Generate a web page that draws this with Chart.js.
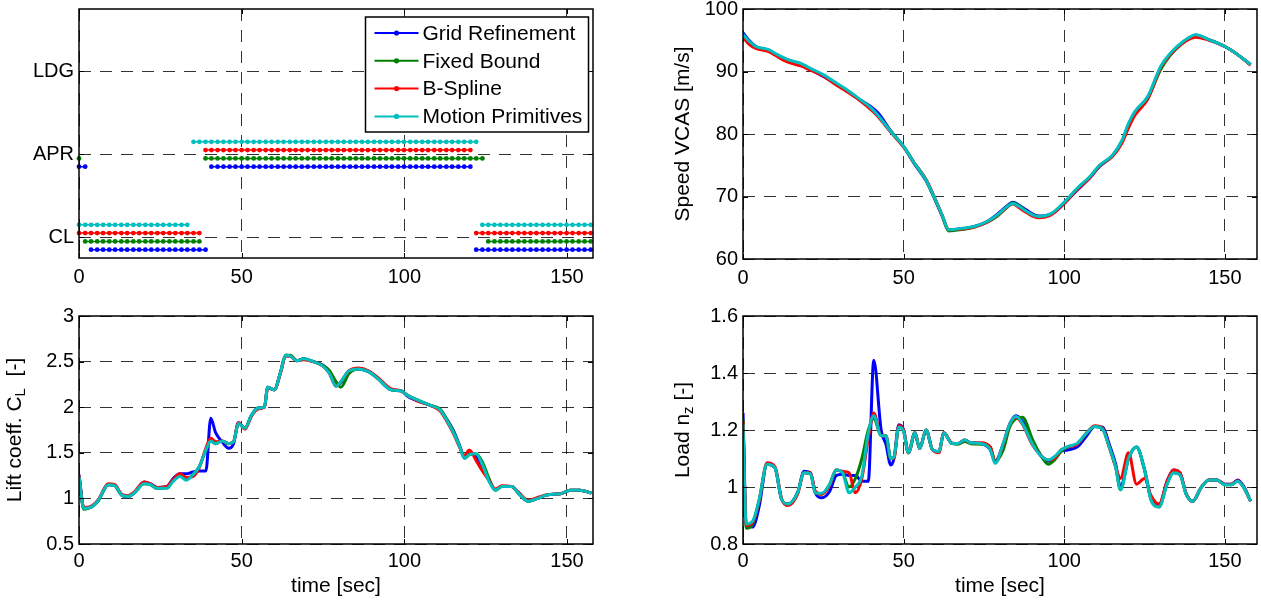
<!DOCTYPE html>
<html>
<head>
<meta charset="utf-8">
<script src="https://cdn.jsdelivr.net/npm/chart.js@4.4.1/dist/chart.umd.min.js"></script>
<style>
body { margin: 0; background: #fff; width: 1261px; height: 601px; overflow: hidden; position: relative; }
canvas { position: absolute; }
</style>
</head>
<body>
<canvas id="modeChart" width="620" height="300" style="left:0;top:0"></canvas>
<canvas id="speedChart" width="621" height="300" style="left:640px;top:0"></canvas>
<canvas id="liftChart" width="620" height="301" style="left:0;top:300px"></canvas>
<canvas id="loadChart" width="621" height="301" style="left:640px;top:300px"></canvas>
<script>
// ---- data ----
const methods = ['Grid Refinement', 'Fixed Bound', 'B-Spline', 'Motion Primitives'];
const colors = ['#0000ff', '#008000', '#ff0000', '#00bfbf'];

const timeTicks = [0, 50, 100, 150];

// flap mode plot
const modeNames = ['CL', 'APR', 'LDG'];
const modeOffsets = [-0.15, -0.05, 0.05, 0.15];
const modeTimes = [0,1.9,3.7,5.6,7.4,9.3,11.1,13,14.8,16.7,18.5,20.4,22.2,24.1,25.9,27.8,29.6,31.5,33.3,35.2,37,38.9,40.7,42.6,44.4,46.3,48.1,50,51.8,53.7,55.5,57.4,59.2,61.1,62.9,64.8,66.6,68.5,70.3,72.2,74,75.9,77.7,79.6,81.4,83.3,85.1,87,88.8,90.7,92.5,94.4,96.2,98.1,99.9,101.8,103.6,105.5,107.3,109.2,111,112.9,114.7,116.6,118.4,120.3,122.1,124,125.8,127.7,129.5,131.4,133.2,135.1,136.9,138.8,140.6,142.5,144.3,146.2,148,149.9,151.7,153.6,155.4,157.3];
const gridModes = [['APR', 0, 1.9], ['CL', 3.7, 38.9], ['APR', 40.7, 120.3], ['CL', 122.1, 158]];
const fixedModes = [['APR', 0, 0], ['CL', 1.9, 37], ['APR', 38.9, 124], ['CL', 125.8, 158]];
const splineModes = [['CL', 0, 37], ['APR', 38.9, 120.3], ['CL', 122.1, 158]];
const motionModes = [['CL', 0, 33.3], ['APR', 35.2, 122.1], ['CL', 124, 158]];

// speed VCAS
const speedTicks = [60, 70, 80, 90, 100];
const tSpeed = [0,2,4,8,10,14,18,21,25,28,32,36,40,42,46,50,53,57,59,62,64,68,72,76,79,82,84,86,88,92,96,100,104,108,111,115,118,120,122,126,130,133,137,141,145,150,154,158];
const speedGrid   = [96.2,94.9,94.0,93.4,92.8,91.8,91.1,90.3,89.2,88.3,87.0,85.6,84.3,83.4,80.5,78.0,75.5,72.5,70.4,66.9,64.7,64.8,65.2,66.0,67.1,68.4,69.1,68.6,67.9,66.9,67.2,68.9,71.0,73.0,74.8,76.5,78.9,81.5,83.5,85.9,90.6,92.8,94.7,95.8,95.1,94.0,92.7,91.1];
const speedFixed  = [95.8,94.7,93.9,93.4,92.8,91.8,91.2,90.4,89.4,88.4,87.1,85.6,84.0,82.9,80.4,78.0,75.6,72.6,70.4,66.9,64.5,64.7,65.1,65.9,66.8,68.2,69.0,68.5,67.7,66.8,67.2,69.0,71.2,73.1,74.9,76.5,78.7,81.4,83.4,85.7,90.3,92.6,94.6,95.8,95.1,94.0,92.7,91.1];
const speedSpline = [95.5,94.3,93.7,93.2,92.6,91.5,90.9,90.2,89.3,88.2,86.9,85.5,83.8,82.8,80.3,77.9,75.6,72.7,70.6,67.0,64.7,64.8,65.1,65.9,66.9,68.2,68.8,68.2,67.5,66.6,67.1,68.9,71.1,73.0,74.9,76.4,78.6,81.0,83.0,85.6,90.6,92.7,94.6,95.5,95.0,94.0,92.7,91.0];
const speedMotion = [95.9,94.8,94.0,93.5,92.9,91.9,91.3,90.5,89.5,88.5,87.2,85.7,84.1,83.0,80.4,78.0,75.6,72.6,70.5,67.0,64.7,64.9,65.2,66.0,67.0,68.3,68.9,68.4,67.7,66.8,67.3,69.1,71.3,73.2,75.0,76.6,79.0,81.7,83.6,86.0,90.8,92.9,94.8,95.9,95.1,94.0,92.7,91.1];

// lift coefficient
const liftTicks = [0.5, 1, 1.5, 2, 2.5, 3];
const tLift = [0,1.5,4,6,9,11,13,15,17,20,22,24,27,29,31,33,35,37,39,40.5,42,44,46,47.5,49,51,53,55,57,58,60,62,63.5,65,67,69,72,75,77,79,80.5,83,86,89,92,96,99,101,104,108,111,113,115,117,118.5,120,122,124,126,128,130,133,135,138,141,144,148,151,154,157.5];
const liftGrid   = [1.26,0.89,0.91,0.98,1.15,1.14,1.04,1.02,1.06,1.18,1.16,1.12,1.13,1.22,1.27,1.27,1.29,1.30,1.30,1.88,1.72,1.62,1.55,1.60,1.83,1.77,1.91,1.99,2.00,2.22,2.19,2.39,2.57,2.56,2.51,2.53,2.50,2.46,2.38,2.24,2.27,2.40,2.42,2.39,2.31,2.19,2.18,2.12,2.07,2.02,1.97,1.87,1.75,1.58,1.45,1.49,1.47,1.33,1.20,1.10,1.13,1.13,1.06,0.97,1.00,1.04,1.05,1.09,1.09,1.06];
const liftFixed  = [1.24,0.88,0.91,0.98,1.15,1.14,1.04,1.02,1.06,1.16,1.15,1.11,1.12,1.20,1.25,1.21,1.26,1.35,1.53,1.63,1.60,1.63,1.60,1.62,1.82,1.77,1.91,1.99,2.00,2.22,2.19,2.39,2.57,2.57,2.51,2.53,2.50,2.46,2.40,2.28,2.22,2.37,2.42,2.39,2.31,2.19,2.18,2.13,2.08,2.02,1.98,1.87,1.74,1.57,1.44,1.48,1.49,1.40,1.22,1.09,1.13,1.13,1.06,0.97,1.00,1.04,1.05,1.09,1.09,1.06];
const liftSpline = [1.25,0.90,0.92,0.99,1.16,1.15,1.05,1.03,1.07,1.18,1.16,1.12,1.13,1.21,1.27,1.23,1.24,1.34,1.55,1.66,1.62,1.63,1.60,1.62,1.83,1.76,1.90,1.98,2.00,2.21,2.19,2.38,2.56,2.56,2.51,2.52,2.50,2.45,2.37,2.23,2.28,2.40,2.43,2.40,2.32,2.20,2.18,2.13,2.07,2.02,1.96,1.85,1.72,1.56,1.47,1.53,1.42,1.30,1.20,1.10,1.14,1.13,1.07,0.98,1.01,1.04,1.05,1.09,1.09,1.06];
const liftMotion = [1.24,0.89,0.91,0.98,1.15,1.14,1.04,1.02,1.06,1.16,1.15,1.11,1.11,1.19,1.24,1.20,1.26,1.35,1.53,1.63,1.60,1.63,1.60,1.62,1.82,1.77,1.91,1.99,2.00,2.22,2.19,2.39,2.57,2.56,2.51,2.53,2.50,2.45,2.37,2.23,2.28,2.40,2.42,2.39,2.31,2.19,2.18,2.13,2.08,2.02,1.97,1.86,1.73,1.57,1.44,1.48,1.49,1.37,1.19,1.09,1.13,1.13,1.06,0.97,1.00,1.04,1.05,1.09,1.09,1.06];

// load factor
const loadTicks = [0.8, 1, 1.2, 1.4, 1.6];
const tLoad = [0,1,3,5,7.5,10,12,14,17,19,21,22.5,24.5,27,29,31,33,35,37,39,40.7,43,44.5,46,47,48.5,50,51.5,53.5,55,57,59,61,62.5,65,67,69,71,74,77,78.5,81,83,85,87,90,92,95,97,99,101,104,107,109.5,112,114,116,117.5,120,122.5,125,127,129.5,132,134,136,138,140,142.5,145,147.5,150,152,154,156,158];
const loadGrid   = [1.26,0.87,0.86,0.93,1.08,1.066,0.957,0.94,0.98,1.055,1.05,0.98,0.962,0.985,1.04,1.045,1.04,1.04,1.02,1.02,1.445,1.20,1.15,1.077,1.10,1.218,1.20,1.12,1.19,1.135,1.20,1.13,1.124,1.19,1.153,1.153,1.165,1.155,1.153,1.13,1.09,1.15,1.22,1.25,1.23,1.16,1.12,1.09,1.10,1.125,1.13,1.14,1.18,1.212,1.21,1.15,1.08,1.00,1.10,1.14,1.06,0.96,0.935,1.02,1.06,1.05,0.975,0.95,0.996,1.025,1.025,1.01,1.01,1.025,1.0,0.95];
const loadFixed  = [1.24,0.855,0.87,0.95,1.08,1.066,0.957,0.94,0.98,1.05,1.046,0.98,0.975,1.01,1.06,1.05,1.00,1.03,1.10,1.20,1.24,1.18,1.18,1.10,1.105,1.21,1.195,1.12,1.19,1.135,1.20,1.13,1.124,1.19,1.153,1.15,1.16,1.152,1.15,1.14,1.09,1.13,1.21,1.24,1.245,1.17,1.125,1.08,1.095,1.125,1.14,1.15,1.19,1.212,1.202,1.14,1.07,0.99,1.10,1.14,1.06,0.955,0.93,1.01,1.05,1.043,0.973,0.95,0.996,1.025,1.025,1.008,1.008,1.02,0.996,0.95];
const loadSpline = [1.23,0.865,0.875,0.95,1.085,1.07,0.96,0.935,0.975,1.05,1.05,0.985,0.975,1.005,1.06,1.055,1.05,0.98,1.03,1.17,1.26,1.18,1.18,1.10,1.10,1.215,1.20,1.12,1.19,1.135,1.20,1.13,1.12,1.19,1.155,1.153,1.165,1.155,1.155,1.14,1.085,1.15,1.22,1.245,1.22,1.15,1.12,1.095,1.10,1.13,1.14,1.15,1.19,1.215,1.205,1.14,1.07,1.03,1.12,1.01,1.03,0.97,0.94,1.02,1.06,1.05,0.975,0.95,0.996,1.025,1.025,1.01,1.01,1.022,0.996,0.95];
const loadMotion = [1.22,0.87,0.88,0.955,1.08,1.066,0.957,0.94,0.98,1.05,1.046,0.98,0.978,1.01,1.06,1.05,0.98,1.00,1.04,1.19,1.25,1.18,1.18,1.10,1.105,1.21,1.195,1.12,1.19,1.135,1.20,1.13,1.124,1.19,1.153,1.153,1.165,1.155,1.153,1.13,1.083,1.153,1.22,1.247,1.223,1.153,1.118,1.095,1.107,1.13,1.142,1.153,1.19,1.212,1.202,1.14,1.07,0.99,1.10,1.14,1.06,0.955,0.93,1.01,1.05,1.043,0.973,0.95,0.996,1.025,1.025,1.008,1.008,1.02,0.996,0.95];

// ---- helpers ----
Chart.defaults.font.family = '"Liberation Sans", Arial, Helvetica, sans-serif';
Chart.defaults.font.size = 20;
Chart.defaults.color = '#000';

const TITLE_FONT = '21px "Liberation Sans", Arial, sans-serif';

function pairs(ts, vs) {
  return ts.map((t, i) => ({x: t, y: vs[i]}));
}

function modePoints(segs, k) {
  const pts = [];
  segs.forEach(([m, t0, t1], i) => {
    if (i > 0) pts.push({x: t0 - 0.5, y: null});
    modeTimes.filter(t => t >= t0 - 0.01 && t <= t1 + 0.01)
      .forEach(t => pts.push({x: t, y: modeNames.indexOf(m) + 1 + modeOffsets[k]}));
  });
  return pts;
}

// MATLAB like box with inward ticks
const frame = {
  id: 'frame',
  afterDraw(chart) {
    const {ctx, chartArea: a, scales} = chart;
    ctx.save();
    ctx.strokeStyle = '#000';
    ctx.lineWidth = 1;
    ctx.setLineDash([]);
    ctx.beginPath();
    scales.x.ticks.forEach(t => {
      const x = Math.round(scales.x.getPixelForValue(t.value)) + 0.5;
      ctx.moveTo(x, a.bottom); ctx.lineTo(x, a.bottom - 5);
      ctx.moveTo(x, a.top); ctx.lineTo(x, a.top + 5);
    });
    scales.y.ticks.forEach(t => {
      const y = Math.round(scales.y.getPixelForValue(t.value)) + 0.5;
      ctx.moveTo(a.left, y); ctx.lineTo(a.left + 5, y);
      ctx.moveTo(a.right, y); ctx.lineTo(a.right - 5, y);
    });
    ctx.stroke();
    ctx.lineWidth = 1.5;
    ctx.strokeRect(a.left, a.top, a.right - a.left, a.bottom - a.top);
    ctx.restore();
  }
};

// axis titles, allowing a subscript part
const axisTitles = {
  id: 'axisTitles',
  afterDraw(chart, args, opts) {
    const {ctx, chartArea: a} = chart;
    ctx.save();
    ctx.fillStyle = '#000';
    ctx.textBaseline = 'middle';
    ctx.textAlign = 'left';
    const drawParts = (parts) => {
      let total = 0;
      parts.forEach(p => { ctx.font = p.sub ? '15px "Liberation Sans", Arial, sans-serif' : TITLE_FONT; total += ctx.measureText(p.text).width; });
      let x = -total / 2;
      parts.forEach(p => {
        ctx.font = p.sub ? '15px "Liberation Sans", Arial, sans-serif' : TITLE_FONT;
        ctx.fillText(p.text, x, p.sub ? 6 : 0);
        x += ctx.measureText(p.text).width;
      });
    };
    if (opts.y) {
      ctx.save();
      ctx.translate(a.left - opts.yGap, (a.top + a.bottom) / 2);
      ctx.rotate(-Math.PI / 2);
      drawParts(opts.y);
      ctx.restore();
    }
    if (opts.x) {
      ctx.save();
      ctx.translate((a.left + a.right) / 2, a.bottom + 42);
      drawParts(opts.x);
      ctx.restore();
    }
    ctx.restore();
  }
};

const modeLegend = {
  id: 'modeLegend',
  afterDraw(chart) {
    const {ctx, chartArea: a} = chart;
    const w = 223, h = 115;
    const x0 = a.right - 4.5 - w, y0 = a.top + 8;
    ctx.save();
    ctx.fillStyle = '#fff';
    ctx.fillRect(x0, y0, w, h);
    ctx.strokeStyle = '#000';
    ctx.lineWidth = 1.5;
    ctx.strokeRect(x0, y0, w, h);
    ctx.font = TITLE_FONT;
    ctx.textBaseline = 'middle';
    methods.forEach((m, i) => {
      const y = y0 + 16 + i * 27.8;
      ctx.strokeStyle = colors[i];
      ctx.lineWidth = 2;
      ctx.beginPath(); ctx.moveTo(x0 + 9, y); ctx.lineTo(x0 + 53, y); ctx.stroke();
      ctx.fillStyle = colors[i];
      ctx.beginPath(); ctx.arc(x0 + 31, y, 2.6, 0, Math.PI * 2); ctx.fill();
      ctx.fillStyle = '#000';
      ctx.fillText(m, x0 + 57, y + 1);
    });
    ctx.restore();
  }
};

function fixTicks(values) {
  return scale => { scale.ticks = values.map(v => ({value: v})); };
}

function axes(opt) {
  return {
    x: {
      type: 'linear', min: 0, max: opt.xMax,
      afterBuildTicks: fixTicks(timeTicks),
      afterFit: s => { s.height = opt.xH; s.paddingLeft = 0; s.paddingRight = 0; },
      ticks: {padding: opt.xPad || 5, maxRotation: 0, autoSkip: false, callback: v => String(v)},
      grid: {color: 'rgba(0,0,0,0.8)', lineWidth: 1, drawTicks: false},
      border: {display: false, dash: [12, 9]}
    },
    y: {
      type: 'linear', min: opt.yMin, max: opt.yMax,
      afterBuildTicks: fixTicks(opt.yTicks),
      afterFit: s => { s.width = opt.yW; s.paddingTop = 0; s.paddingBottom = 0; },
      ticks: {padding: 5, autoSkip: false, callback: opt.yLabel || (v => String(v))},
      grid: {color: 'rgba(0,0,0,0.8)', lineWidth: 1, drawTicks: false},
      border: {display: false, dash: [12, 9]}
    }
  };
}

const common = {
  responsive: false,
  animation: false,
  devicePixelRatio: 1,
  events: []
};

function lineSets(ts, series) {
  return series.map((vs, i) => ({
    label: methods[i],
    data: pairs(ts, vs),
    borderColor: colors[i],
    borderWidth: 3,
    pointRadius: 0,
    cubicInterpolationMode: 'monotone',
    order: 3 - i
  }));
}

// ---- chart 1: flap configuration ----
new Chart(document.getElementById('modeChart'), {
  type: 'line',
  data: {
    datasets: [gridModes, fixedModes, splineModes, motionModes].map((segs, i) => ({
      label: methods[i],
      data: modePoints(segs, i),
      borderColor: colors[i],
      backgroundColor: colors[i],
      borderWidth: 1.5,
      pointRadius: 2.4,
      pointBorderWidth: 0,
      pointBackgroundColor: colors[i],
      spanGaps: false,
      clip: 4,
      order: 3 - i
    }))
  },
  options: {
    ...common,
    layout: {padding: {left: 0, top: 9, right: 27, bottom: 0}},
    scales: axes({xMax: 158, xH: 42, xPad: 7, yMin: 0.75, yMax: 3.75, yTicks: [1, 2, 3], yW: 79,
      yLabel: v => modeNames[Math.round(v) - 1]}),
    plugins: {legend: {display: false}, tooltip: {enabled: false}}
  },
  plugins: [frame, modeLegend]
});

// ---- chart 2: speed ----
new Chart(document.getElementById('speedChart'), {
  type: 'line',
  data: {datasets: lineSets(tSpeed, [speedGrid, speedFixed, speedSpline, speedMotion])},
  options: {
    ...common,
    layout: {padding: {left: 0, top: 9, right: 4, bottom: 0}},
    scales: axes({xMax: 160, xH: 41, xPad: 7, yMin: 60, yMax: 100, yTicks: speedTicks, yW: 103}),
    plugins: {legend: {display: false}, tooltip: {enabled: false},
      axisTitles: {y: [{text: 'Speed VCAS [m/s]'}], yGap: 60}}
  },
  plugins: [frame, axisTitles]
});

// ---- chart 3: lift coefficient ----
new Chart(document.getElementById('liftChart'), {
  type: 'line',
  data: {datasets: lineSets(tLift, [liftGrid, liftFixed, liftSpline, liftMotion])},
  options: {
    ...common,
    layout: {padding: {left: 0, top: 16, right: 27, bottom: 0}},
    scales: axes({xMax: 158, xH: 57, yMin: 0.5, yMax: 3, yTicks: liftTicks, yW: 79}),
    plugins: {legend: {display: false}, tooltip: {enabled: false},
      axisTitles: {y: [{text: 'Lift coeff. C'}, {text: 'L', sub: true}, {text: '  [-]'}], yGap: 64,
        x: [{text: 'time [sec]'}]}}
  },
  plugins: [frame, axisTitles]
});

// ---- chart 4: load factor ----
new Chart(document.getElementById('loadChart'), {
  type: 'line',
  data: {datasets: lineSets(tLoad, [loadGrid, loadFixed, loadSpline, loadMotion])},
  options: {
    ...common,
    layout: {padding: {left: 0, top: 16, right: 4, bottom: 0}},
    scales: axes({xMax: 160, xH: 57, yMin: 0.8, yMax: 1.6, yTicks: loadTicks, yW: 103}),
    plugins: {legend: {display: false}, tooltip: {enabled: false},
      axisTitles: {y: [{text: 'Load n'}, {text: 'z', sub: true}, {text: ' [-]'}], yGap: 60,
        x: [{text: 'time [sec]'}]}}
  },
  plugins: [frame, axisTitles]
});
</script>
</body>
</html>
